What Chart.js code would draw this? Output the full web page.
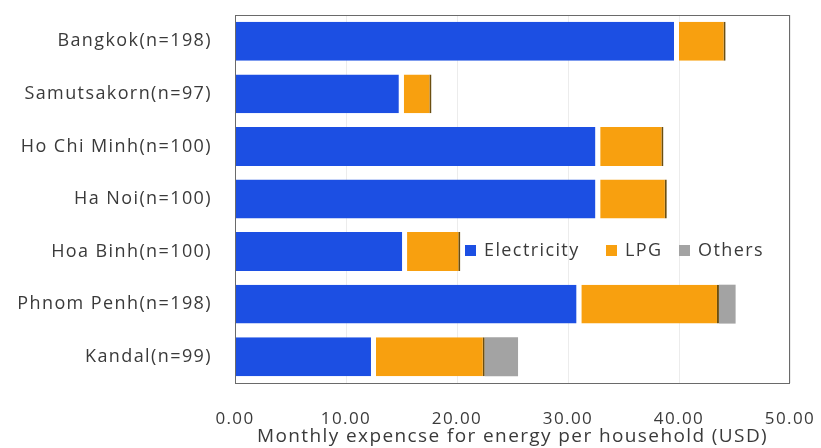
<!DOCTYPE html>
<html>
<head>
<meta charset="utf-8">
<script src="https://cdn.jsdelivr.net/npm/chart.js@4/dist/chart.umd.min.js"></script>
<style>
  html, body { margin: 0; padding: 0; background: #fff; }
  #wrap { width: 821px; height: 448px; }
</style>
</head>
<body>
<div id="wrap"><canvas id="barChart"></canvas></div>
<script>
const cities = ['Bangkok(n=198)', 'Samutsakorn(n=97)', 'Ho Chi Minh(n=100)', 'Ha Noi(n=100)',
                'Hoa Binh(n=100)', 'Phnom Penh(n=198)', 'Kandal(n=99)'];
const electricity = [40.0, 15.2, 32.9, 32.9, 15.5, 31.2, 12.7];
const lpg = [4.2, 2.5, 5.7, 6.0, 4.8, 12.4, 9.8];
const others = [0, 0, 0, 0, 0, 1.5, 3.0];
const xTicks = [0, 10, 20, 30, 40, 50];

const FONT = "'Open Sans', sans-serif";
const TEXT = '#3a3a3a';

// the scanned original has wide letter spacing
const spacingPlugin = {
    id: 'spacing',
    beforeInit(chart) { chart.ctx.letterSpacing = '1.4px'; },
    beforeDraw(chart) { chart.ctx.letterSpacing = '1.4px'; }
};

// frame around the plot area + legend inside it
const framePlugin = {
    id: 'frame',
    afterDraw(chart) {
        const { ctx, chartArea: a } = chart;
        ctx.save();
        ctx.strokeStyle = '#6a6a6a';
        ctx.lineWidth = 1;
        ctx.strokeRect(a.left + 0.5, a.top + 0.5, a.right - a.left - 1, a.bottom - a.top);

        // legend
        const items = [
            { ds: 0, x: 465 },
            { ds: 1, x: 606 },
            { ds: 2, x: 679 }
        ];
        ctx.font = '18px ' + FONT;
        ctx.textBaseline = 'middle';
        items.forEach(it => {
            const d = chart.data.datasets[it.ds];
            ctx.fillStyle = d.backgroundColor;
            ctx.fillRect(it.x, 245, 11, 11);
            ctx.fillStyle = TEXT;
            ctx.fillText(d.label, it.x + 19, 251);
        });
        ctx.restore();
    }
};

new Chart(document.getElementById('barChart'), {
    type: 'bar',
    data: {
        labels: cities,
        datasets: [{
            label: 'Electricity',
            data: electricity,
            backgroundColor: '#1c4fe3',
            borderColor: '#ffffff',
            borderWidth: { right: 5 },
            borderSkipped: false
        }, {
            label: 'LPG',
            data: lpg,
            backgroundColor: '#f8a00f',
            borderColor: '#6b4e10',
            borderWidth: { right: 2 },
            borderSkipped: false
        }, {
            label: 'Others',
            data: others,
            backgroundColor: '#a3a3a3',
            borderWidth: 0
        }]
    },
    options: {
        indexAxis: 'y',
        responsive: true,
        maintainAspectRatio: false,
        animation: false,
        datasets: {
            bar: { categoryPercentage: 1, barPercentage: 0.74 }
        },
        layout: { padding: { top: 15, right: 31, left: 0, bottom: 0 } },
        plugins: {
            legend: { display: false },
            tooltip: { enabled: false }
        },
        scales: {
            x: {
                stacked: true,
                min: 0,
                max: 50,
                afterBuildTicks: scale => { scale.ticks = xTicks.map(v => ({ value: v })); },
                afterFit: scale => {
                    scale.height = 65;
                    scale.paddingLeft = 0;
                    scale.paddingRight = 0;
                },
                grid: { color: '#ececec', drawTicks: false },
                border: { display: false },
                ticks: {
                    color: TEXT,
                    font: { family: FONT, size: 17 },
                    padding: 26,
                    maxRotation: 0,
                    callback: v => Number(v).toFixed(2)
                },
                title: {
                    display: true,
                    text: 'Monthly expencse for energy per household (USD)',
                    color: TEXT,
                    font: { family: FONT, size: 19 },
                    padding: { top: 0, bottom: 0 }
                }
            },
            y: {
                stacked: true,
                afterFit: scale => {
                    scale.width = 235;
                    scale.paddingTop = 0;
                    scale.paddingBottom = 0;
                },
                grid: { display: false, drawTicks: false },
                border: { display: false },
                ticks: {
                    color: TEXT,
                    font: { family: FONT, size: 18 },
                    padding: 23
                }
            }
        }
    },
    plugins: [spacingPlugin, framePlugin]
});
</script>
</body>
</html>
